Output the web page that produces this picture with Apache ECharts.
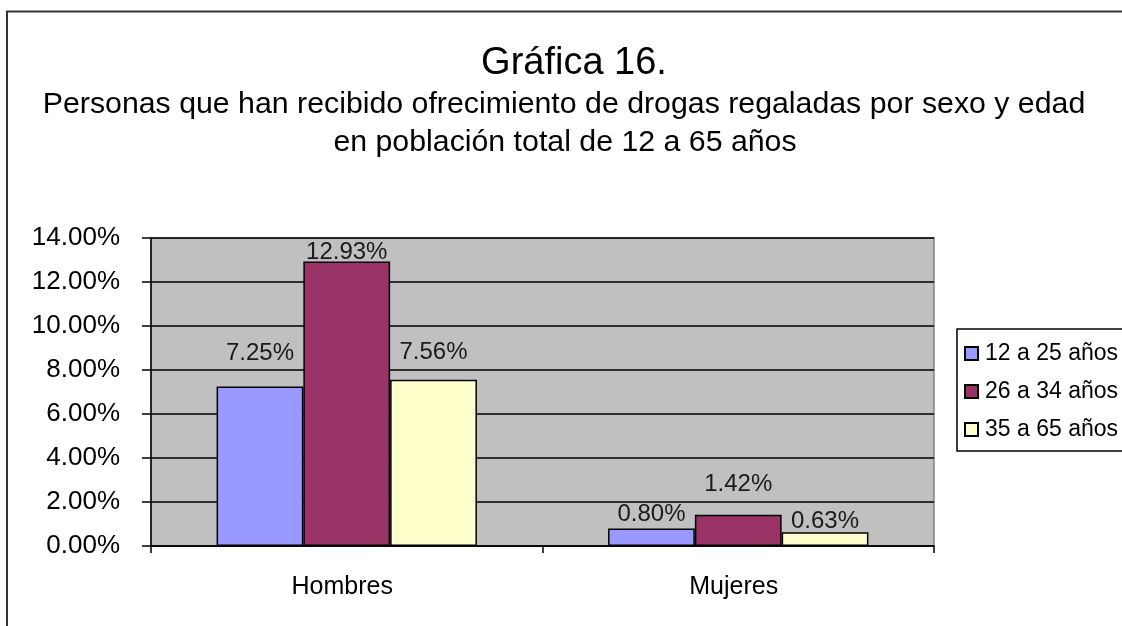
<!DOCTYPE html>
<html>
<head>
<meta charset="utf-8">
<script src="https://cdn.jsdelivr.net/npm/echarts@6/dist/echarts.min.js"></script>
<style>
  html, body { margin: 0; padding: 0; background: #fff; }
  #chart { width: 1122px; height: 626px; }
</style>
</head>
<body>
<div id="chart"></div>
<script>
// data (percent)
const categories = ['Hombres', 'Mujeres']
const seriesNames = ['12 a 25 años', '26 a 34 años', '35 a 65 años']
const edad12a25 = [7.25, 0.80]
const edad26a34 = [12.93, 1.42]
const edad35a65 = [7.56, 0.63]

const FONT = 'Arial, "Liberation Sans", sans-serif'
const colors = ['#9999FF', '#993366', '#FFFFCC']

// Excel put the data labels at uneven heights above the bars
const labelDist = [[21, 2], [-3, 18], [15, -1]]

function makeSeries(name, values, i) {
  return {
    name: name,
    type: 'bar',
    barGap: '0%',
    barCategoryGap: '33.5%',
    itemStyle: { color: colors[i], borderColor: '#000', borderWidth: 1.5 },
    data: values.map((v, j) => ({
      value: v,
      label: { distance: labelDist[i][j] }
    })),
    label: {
      show: true,
      position: 'top',
      fontFamily: FONT,
      fontSize: 24,
      lineHeight: 24,
      color: '#1a1a1a',
      formatter: p => p.value.toFixed(2) + '%'
    }
  }
}

var myChart = echarts.init(document.getElementById('chart'), null, { renderer: 'canvas' })

myChart.setOption({
  animation: false,
  backgroundColor: '#fff',
  graphic: [
    {
      type: 'rect',
      shape: { x: 7, y: 11.5, width: 1200, height: 700 },
      style: { fill: 'none', stroke: '#333', lineWidth: 2 },
      z: 100
    },
    {
      type: 'text', x: 574, y: 64,
      style: { text: 'Gráfica 16.', font: '38px ' + FONT, fill: '#000', textAlign: 'center', textVerticalAlign: 'middle' }
    },
    {
      type: 'text', x: 564, y: 105,
      style: { text: 'Personas que han recibido ofrecimiento de drogas regaladas por sexo y edad', font: '30.3px ' + FONT, fill: '#000', textAlign: 'center', textVerticalAlign: 'middle' }
    },
    {
      type: 'text', x: 565, y: 143,
      style: { text: 'en población total de 12 a 65 años', font: '30.3px ' + FONT, fill: '#000', textAlign: 'center', textVerticalAlign: 'middle' }
    }
  ],
  legend: {
    orient: 'vertical',
    left: 957,
    top: 329,
    padding: [13, 12, 10, 7],
    itemGap: 15,
    itemWidth: 13,
    itemHeight: 13,
    icon: 'rect',
    borderColor: '#000',
    borderWidth: 1.5,
    backgroundColor: '#fff',
    textStyle: { fontFamily: FONT, fontSize: 23, lineHeight: 23, color: '#000', padding: [0, 0, 0, 2] },
    data: seriesNames
  },
  grid: {
    left: 151,
    top: 238,
    width: 783,
    height: 308,
    show: true,
    backgroundColor: '#C0C0C0',
    borderColor: '#808080',
    borderWidth: 1.5
  },
  xAxis: {
    type: 'category',
    data: categories,
    axisLine: { lineStyle: { color: '#000', width: 1.5 } },
    axisTick: { show: true, length: 7, lineStyle: { color: '#000', width: 1.5 } },
    axisLabel: {
      fontFamily: FONT, fontSize: 25, lineHeight: 25, color: '#000', margin: 29,
      padding: [0, 9, 0, 0]
    }
  },
  yAxis: {
    type: 'value',
    min: 0,
    max: 14,
    interval: 2,
    axisLine: { show: true, lineStyle: { color: '#000', width: 1.5 } },
    axisTick: { show: true, length: 9, lineStyle: { color: '#000', width: 1.5 } },
    splitLine: { lineStyle: { color: '#000', width: 1.5 } },
    axisLabel: {
      fontFamily: FONT, fontSize: 26, color: '#000', margin: 31,
      formatter: v => v.toFixed(2) + '%'
    }
  },
  series: [
    makeSeries(seriesNames[0], edad12a25, 0),
    makeSeries(seriesNames[1], edad26a34, 1),
    makeSeries(seriesNames[2], edad35a65, 2)
  ]
})
</script>
</body>
</html>
